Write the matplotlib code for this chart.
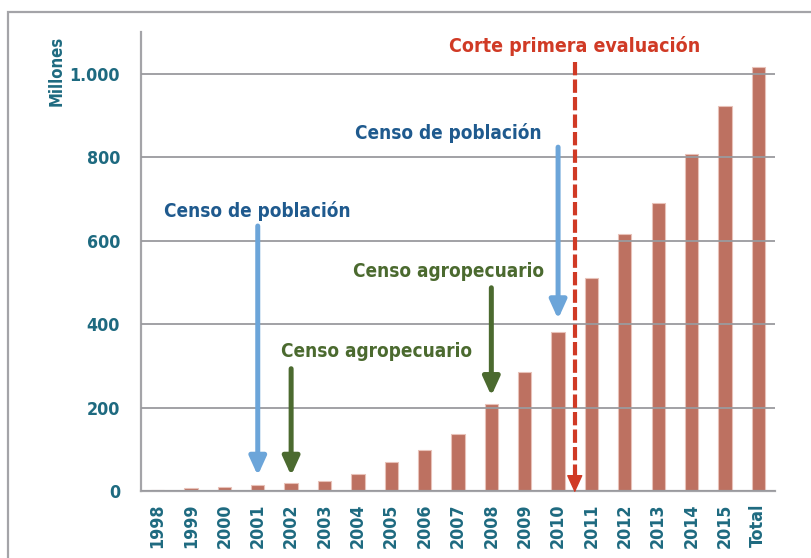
import matplotlib.pyplot as plt
from matplotlib.patches import Rectangle

# datos (millones)
categorias = ["1998", "1999", "2000", "2001", "2002", "2003", "2004", "2005",
              "2006", "2007", "2008", "2009", "2010", "2011", "2012", "2013",
              "2014", "2015", "Total"]
valores = [2, 6, 9, 14, 20, 24, 40, 70, 98, 136, 208, 285, 381,
           510, 617, 689, 807, 922, 1017]

yticks = [0, 200, 400, 600, 800, 1000]
ytick_labels = ["0", "200", "400", "600", "800", "1.000"]

# anotaciones: (texto, categoria, inicio flecha, punta flecha, texto x, texto y)
censos = [
    ("Censo de población", "2001", 635, 37, 0.19, 657),
    ("Censo agropecuario", "2002", 293, 37, 3.71, 321),
    ("Censo agropecuario", "2008", 487, 228, 5.85, 513),
    ("Censo de población", "2010", 824, 412, 5.91, 843),
]
corte_x = 12.5

TEAL = "#1e6a80"
AZUL_TXT = "#1f5a8e"
AZUL = "#6ca5d9"
VERDE = "#4b6a2f"
ROJO = "#d03a25"
BARRA = "#bd7161"
GRIS = "#a4a4a8"

plt.rcParams["font.family"] = ["DejaVu Sans"]
plt.rcParams["font.stretch"] = "condensed"
plt.rcParams["font.weight"] = "bold"

fig = plt.figure(figsize=(8.12, 5.58), dpi=100)
ax = fig.add_axes([0.1736, 0.1201, 0.7808, 0.8226])

x = list(range(len(categorias)))
ax.bar(x, valores, width=0.4, color=BARRA, edgecolor="#e8c2b9", linewidth=0.8, zorder=2)

ax.set_xlim(-0.5, len(categorias) - 0.5)
ax.set_ylim(0, 1100)
ax.set_yticks(yticks)
ax.set_yticklabels(ytick_labels)
ax.set_xticks(x)
ax.set_xticklabels(categorias, rotation=90)
ax.tick_params(length=0, colors=TEAL, labelsize=12.8)
ax.tick_params(axis="x", pad=9)
ax.tick_params(axis="y", pad=15)
for lab in ax.get_xticklabels() + ax.get_yticklabels():
    lab.set_fontweight("bold")
    lab.set_fontstretch("condensed")

ax.grid(axis="y", color="#9a9a9e", linewidth=1.3, zorder=3)
ax.set_axisbelow(False)
for s in ["top", "right"]:
    ax.spines[s].set_visible(False)
for s in ["left", "bottom"]:
    ax.spines[s].set_color(GRIS)
    ax.spines[s].set_linewidth(1.6)

# flechas de censos
for texto, cat, y0, y1, tx, ty in censos:
    xi = categorias.index(cat)
    col = AZUL if "población" in texto else VERDE
    col_txt = AZUL_TXT if "población" in texto else VERDE
    ax.annotate("", xy=(xi, y1), xytext=(xi, y0),
                arrowprops=dict(arrowstyle="-|>,head_length=0.55,head_width=0.25",
                                mutation_scale=20, lw=3.6, color=col,
                                shrinkA=0, shrinkB=0), zorder=4)
    ax.text(tx, ty, texto, color=col_txt, fontsize=13.6, fontweight="bold",
            fontstretch="condensed", ha="left", va="baseline", zorder=5)

# corte primera evaluacion
ax.plot([corte_x, corte_x], [1029, 30], color=ROJO, lw=3,
        linestyle=(0, (3.2, 1.0)), zorder=4, clip_on=False)
ax.annotate("", xy=(corte_x, -4), xytext=(corte_x, 40),
            arrowprops=dict(arrowstyle="-|>,head_length=0.55,head_width=0.25",
                            mutation_scale=20, lw=1, color=ROJO,
                            shrinkA=0, shrinkB=0), zorder=4, annotation_clip=False)
ax.text(corte_x, 1053, "Corte primera evaluación", color=ROJO, fontsize=14,
        fontweight="bold", fontstretch="condensed", ha="center", va="baseline")

fig.text(57 / 812, 1 - 71 / 558, "Millones", rotation=90, color=TEAL,
         fontsize=12, fontweight="bold", fontstretch="condensed",
         ha="center", va="center")

# marco
fig.patches.append(Rectangle((8 / 812, -0.1), 1.2, 1 - 12 / 558 + 0.1,
                             transform=fig.transFigure, fill=False,
                             edgecolor=GRIS, linewidth=1.6))

fig.savefig("out.png", dpi=100)
